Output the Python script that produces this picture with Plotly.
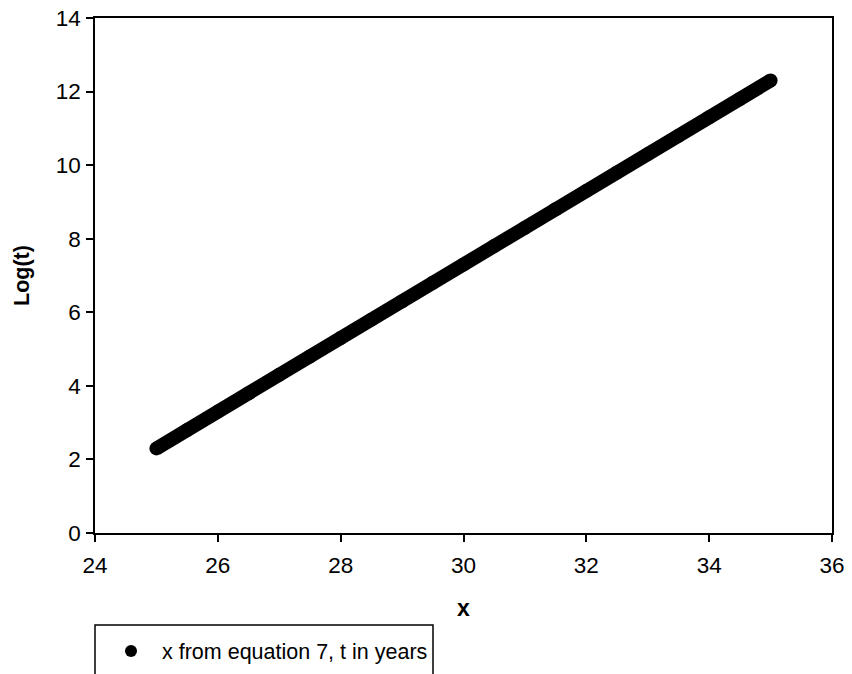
import plotly.graph_objects as go

# Data
x_vals = [25.0, 25.5, 26.0, 26.5, 27.0, 27.5, 28.0, 28.5, 29.0, 29.5, 30.0,
          30.5, 31.0, 31.5, 32.0, 32.5, 33.0, 33.5, 34.0, 34.5, 35.0]
log_t = [2.3, 2.8, 3.3, 3.8, 4.3, 4.8, 5.3, 5.8, 6.3, 6.8, 7.3,
         7.8, 8.3, 8.8, 9.3, 9.8, 10.3, 10.8, 11.3, 11.8, 12.3]
x_ticks = [24, 26, 28, 30, 32, 34, 36]
y_ticks = [0, 2, 4, 6, 8, 10, 12, 14]
series_name = "x from equation 7, t in years"

FONT = "Liberation Sans, Arial, sans-serif"

fig = go.Figure()
# continuous band of the densely packed markers
fig.add_trace(go.Scatter(x=x_vals, y=log_t, mode="lines",
                         line=dict(color="black", width=14),
                         showlegend=False, hoverinfo="skip"))
fig.add_trace(go.Scatter(x=x_vals, y=log_t, mode="markers", name=series_name,
                         marker=dict(color="black", size=14)))

fig.update_layout(
    width=852, height=674,
    margin=dict(l=95, r=20, t=18, b=141, autoexpand=False),
    paper_bgcolor="white", plot_bgcolor="white",
    font=dict(family=FONT, color="black", size=22),
    xaxis=dict(range=[24, 36], tickvals=x_ticks, ticks="outside", ticklen=7,
               tickwidth=1.5, tickcolor="black", showline=True, linecolor="black",
               linewidth=1.5, mirror=True, showgrid=False, zeroline=False,
               automargin=False, tickfont=dict(size=22.5), ticklabelstandoff=4,
               ticklabeloverflow="allow",
               title=dict(text="<b>x</b>", font=dict(size=23), standoff=23)),
    yaxis=dict(range=[0, 14], tickvals=y_ticks, ticks="outside", ticklen=7,
               tickwidth=1.5, tickcolor="black", showline=True, linecolor="black",
               linewidth=1.5, mirror=True, showgrid=False, zeroline=False,
               automargin=False, tickfont=dict(size=22.5), ticklabelstandoff=1,
               ticklabeloverflow="allow",
               title=dict(text="<b>Log(t)</b>", font=dict(size=21.5), standoff=20)),
    legend=dict(x=(100 - 95) / 737, xanchor="left", y=-0.229, yanchor="middle",
                font=dict(size=21.5), bgcolor="rgba(0,0,0,0)", borderwidth=0,
                itemsizing="constant", itemwidth=52),
    shapes=[dict(type="rect", xref="paper", yref="paper",
                 x0=0.0, x1=(433 - 95) / 737, y0=(533 - 625) / 515, y1=(533 - 720) / 515,
                 line=dict(color="black", width=1.5), fillcolor="rgba(0,0,0,0)")],
)

fig.write_html("out.html", config={"displayModeBar": False},
               post_script="document.body.style.margin='0';")
